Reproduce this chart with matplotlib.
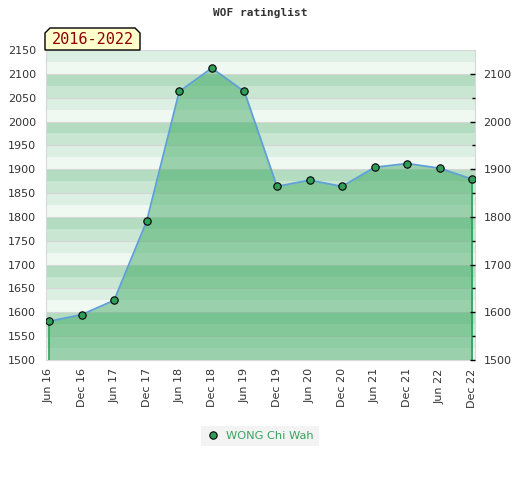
import numpy as np
import matplotlib
matplotlib.use("Agg")
import matplotlib.pyplot as plt
from matplotlib.patches import Polygon

# data
periods = ["Jun 16", "Dec 16", "Jun 17", "Dec 17", "Jun 18", "Dec 18", "Jun 19",
           "Dec 19", "Jun 20", "Dec 20", "Jun 21", "Dec 21", "Jun 22", "Dec 22"]
ratings = [1581, 1595, 1625, 1791, 2063, 2112, 2063,
           1864, 1877, 1864, 1904, 1912, 1902, 1879]
player = "WONG Chi Wah"
title = "WOF ratinglist"
span_label = "2016-2022"

ymin, ymax = 1500, 2150
band_cols = ["#b3dcc0", "#c8e6d1", "#dcefe3", "#f0f8f2"]

fig = plt.figure(figsize=(5.2, 4.8), dpi=100)
ax = fig.add_axes([46 / 520, 1 - 360 / 480, 429 / 520, 310 / 480])

# striped background, 25 points per stripe
for v in range(ymin, ymax, 25):
    k = ((2100 - (v + 25)) // 25) % 4
    ax.axhspan(v, v + 25, color=band_cols[k], lw=0, zorder=0)
for v in range(ymin, ymax + 1, 50):
    ax.axhline(v, color="#d6d6d6", lw=0.8, zorder=0.5)

x = np.arange(len(ratings))
ax.fill_between(x, ratings, ymin, color=(53 / 255, 165 / 255, 90 / 255), alpha=0.46, lw=0, zorder=1)
ax.vlines([x[0], x[-1]], ymin, [ratings[0], ratings[-1]], color="#2ca05a", lw=1.2, zorder=2)
ax.plot(x, ratings, color="#5fa0d8", lw=1.3, zorder=3)
ax.plot(x, ratings, "o", ms=5.3, mfc="#2e9e58", mec="black", mew=0.8, zorder=4, label=player)

ax.set_xlim(-0.09, len(ratings) - 1 + 0.08)
ax.set_ylim(ymin, ymax)
ax.set_xticks(x)
ax.set_xticklabels(periods, rotation=90, fontsize=8, color="#333333")
ax.set_yticks(np.arange(ymin, ymax + 1, 50))
ax.tick_params(axis="y", length=0, pad=7, labelsize=8, labelcolor="#333333")
ax.tick_params(axis="x", length=0, pad=6)
for s in ax.spines.values():
    s.set_color("#d8d8d8")

ax2 = ax.twinx()
ax2.set_ylim(ymin, ymax)
ax2.set_yticks(np.arange(1500, 2101, 100))
ax2.set_yticks(np.arange(1550, 2101, 100), minor=True)
ax2.tick_params(axis="y", which="major", direction="in", length=3.5, width=1, pad=6,
                labelsize=8, labelcolor="#333333", color="black")
ax2.tick_params(axis="y", which="minor", direction="in", length=2.5, width=1, color="black")
for s in ax2.spines.values():
    s.set_visible(False)

fig.text(0.5, 1 - 13 / 480, title, ha="center", va="center",
         family="DejaVu Sans Mono", fontweight="bold", fontsize=8, color="#333333")

# label box with cut top corners
bx0, bx1, by0, by1, c = 45, 140, 480 - 50, 480 - 28, 5
pts = [(bx0, by0), (bx1, by0), (bx1, by1 - c), (bx1 - c, by1), (bx0 + c, by1), (bx0, by1 - c)]
fig.patches.append(Polygon([(px / 520, py / 480) for px, py in pts], closed=True,
                           transform=fig.transFigure, facecolor="#ffffcc",
                           edgecolor="black", lw=1, zorder=5))
fig.text((bx0 + bx1) / 2 / 520, (by0 + by1) / 2 / 480, span_label, ha="center", va="center",
         family="DejaVu Sans Mono", fontsize=11, color="#8b0000", zorder=6)

leg = fig.legend(loc="center", bbox_to_anchor=(260 / 520, 1 - 436 / 480), frameon=True,
                 fontsize=8.2, handletextpad=0.5, handlelength=1.3, borderpad=0.45)
leg.get_frame().set_facecolor("#f0f0f0")
leg.get_frame().set_edgecolor("none")
leg.get_frame().set_boxstyle("square", pad=0)
for t in leg.get_texts():
    t.set_color("#3aa35f")

fig.savefig("out.png", dpi=100)
